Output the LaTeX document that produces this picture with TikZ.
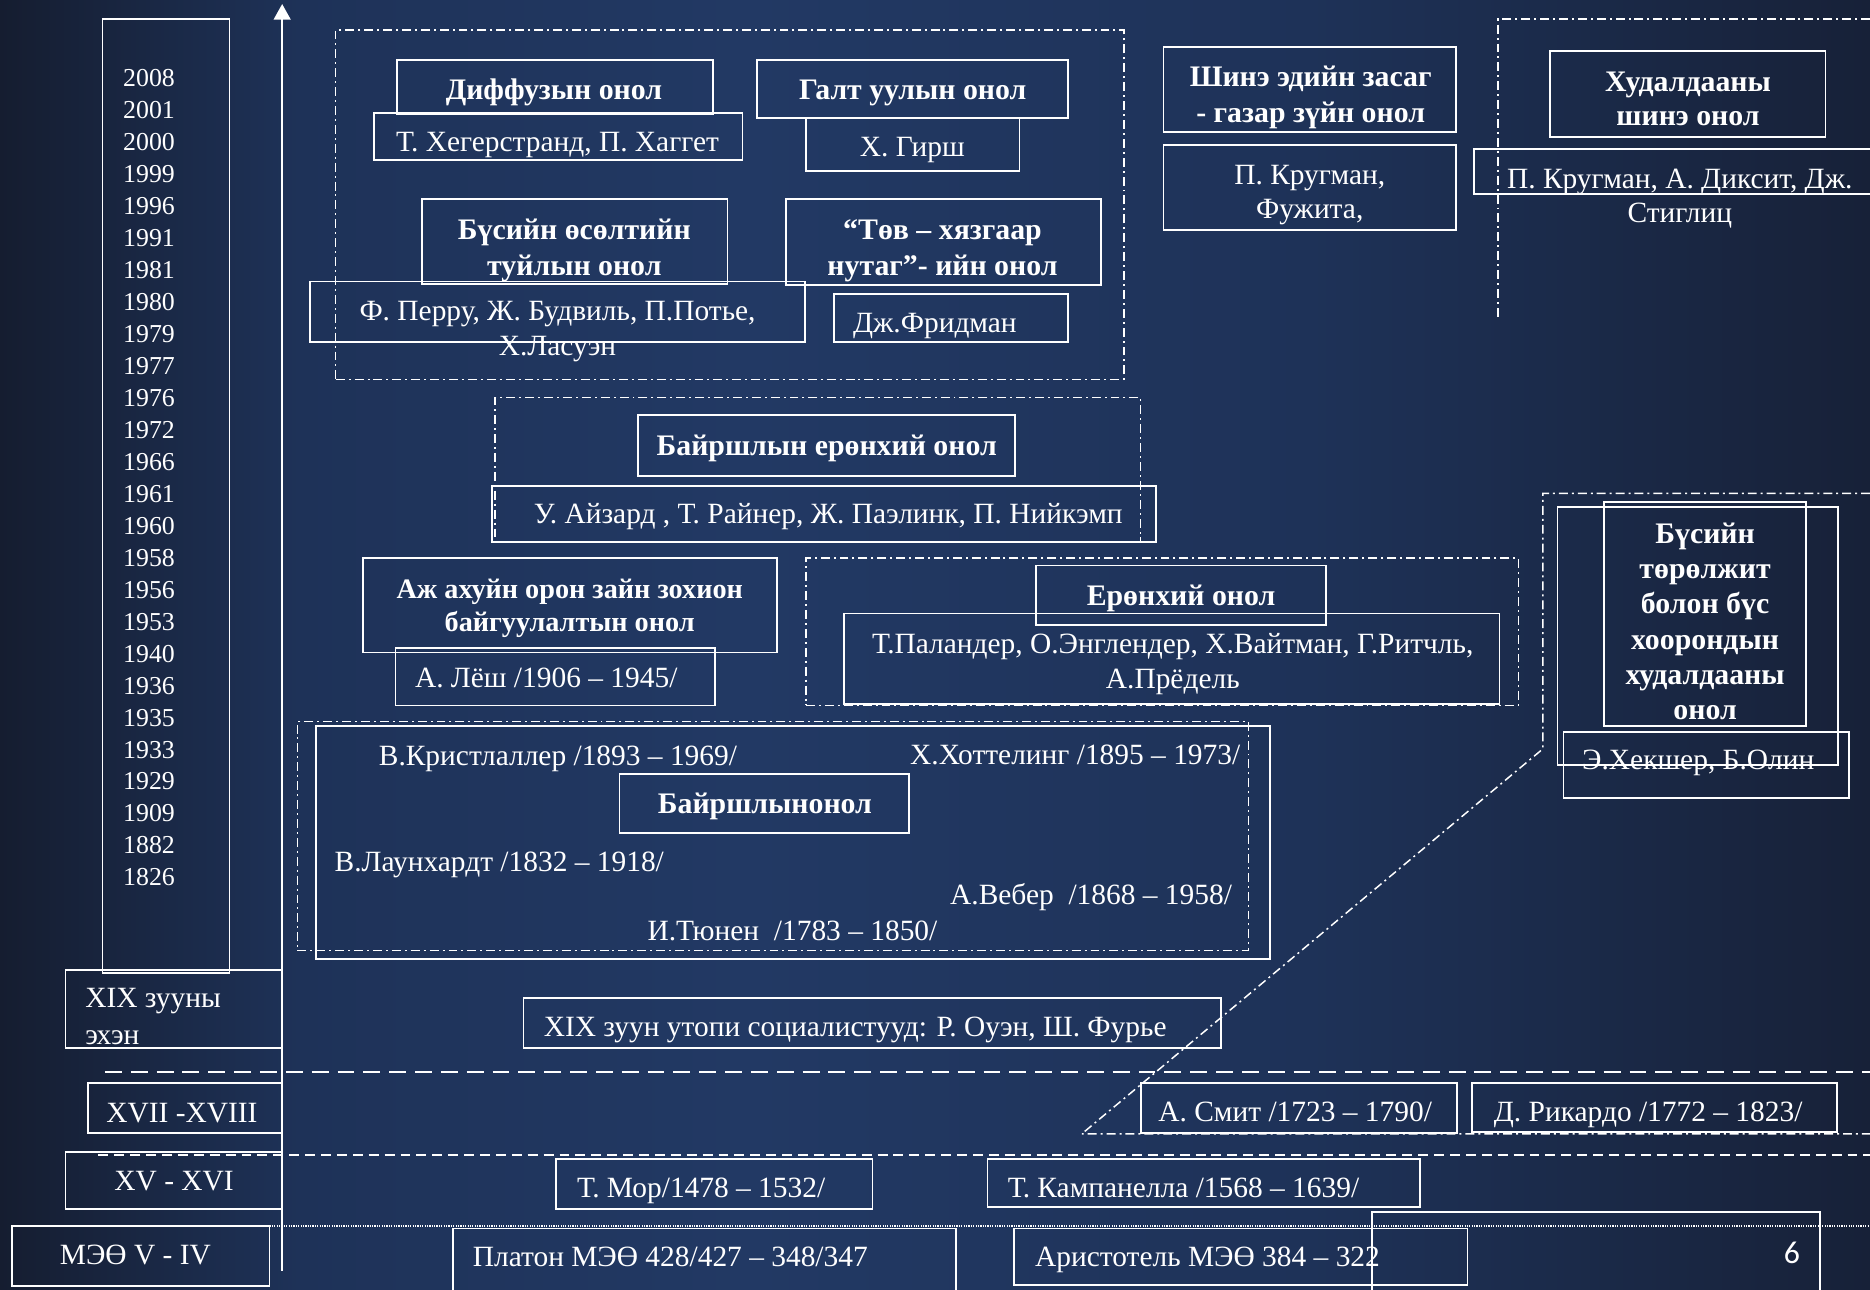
\documentclass[tikz,border=0pt]{standalone}
\usepackage{fontspec}
\setmainfont{Liberation Serif}
\newfontfamily\pagefont{Carlito}
\usetikzlibrary{fit,arrows.meta}
\definecolor{bgA}{RGB}{21,29,48}
\definecolor{bgB}{RGB}{30,50,88}
\definecolor{bgC}{RGB}{34,57,100}
\definecolor{bgD}{RGB}{23,33,56}
\pgfdeclarehorizontalshading{bgsh}{100bp}{color(0bp)=(bgA); color(25bp)=(bgA); color(33bp)=(bgB); color(45bp)=(bgC); color(60bp)=(bgB); color(75bp)=(bgD); color(100bp)=(bgD)}
\tikzset{
 bx/.style={draw=white, line width=0.9pt, inner sep=0pt, outer sep=0pt},
 dd/.style={draw=white, line width=0.75pt, dash pattern=on 4.5pt off 2pt on 1pt off 2pt},
 ddbox/.style={dd, inner sep=0pt, outer sep=0pt},
 tx/.style={text=white, inner sep=0pt, outer sep=0pt, anchor=base, font=\fontsize{14.8}{17.5}\selectfont},
 tb/.style={tx, font=\bfseries\fontsize{15}{17.5}\selectfont},
 ml/.style={anchor=north, align=center},
 longdash/.style={draw=white, line width=1pt, dash pattern=on 8.5pt off 4.5pt},
 shortdash/.style={draw=white, line width=0.85pt, dash pattern=on 5pt off 3pt},
 finedot/.style={draw=white, line width=0.8pt, dash pattern=on 0.6pt off 0.6pt},
}
\newcommand\bxx[5]{\node[bx, fit={(#2,#3) (#4,#5)}] (#1) {};}
\newcommand\grp[5]{\node[ddbox, fit={(#2,#3) (#4,#5)}] (#1) {};}
\begin{document}
\begin{tikzpicture}[x=0.6pt, y=-0.6pt]
\useasboundingbox (0,0) rectangle (1568,1081);
\shade[shading=bgsh] (0,0) rectangle (1568,1081);
\clip (0,0) rectangle (1568,1081);

% ---------- time axis ----------
\coordinate (axb) at (236.6,1065.5);
\coordinate (axt) at (236.6,3.4);
\draw[white, line width=1pt, -{Triangle[width=8.4pt,length=7.8pt]}] (axb) -- (axt);

\bxx{byears}{86}{16}{192.5}{816}
\node[tx, ml, font=\fontsize{13}{16.08}\selectfont] (years) at (125,58.4)
 {2008\\2001\\2000\\1999\\1996\\1991\\1981\\1980\\1979\\1977\\1976\\1972\\1966\\1961\\1960\\1958\\1956\\1953\\1940\\1936\\1935\\1933\\1929\\1909\\1882\\1826};

% ---------- era boxes ----------
\bxx{bxix}{55}{813.4}{236.5}{879}
\node[tx, anchor=north west, align=left, font=\fontsize{14.8}{18.4}\selectfont] (txix) at (71.5,828.8) {XIX зууны\\эхэн};
\bxx{bxvii}{73.5}{908.4}{236.5}{950.3}
\node[tx] (txvii) at (152.6,940.8) {XVII -XVIII};
\bxx{bxv}{55}{965.7}{236.5}{1013.8}
\node[tx] (txv) at (146,998.1) {XV - XVI};
\bxx{bmee}{10}{1028}{226}{1078}
\node[tx] (tmee) at (113.5,1060.4) {МЭӨ V - IV};

% ---------- horizontal separators ----------
\coordinate (s1a) at (88,899); \coordinate (s1b) at (1568,899);
\draw[longdash] (s1a) -- (s1b);
\coordinate (s2a) at (82.5,968.5); \coordinate (s2b) at (1568,968.5);
\draw[shortdash] (s2a) -- (s2b);
\coordinate (s3a) at (226,1028); \coordinate (s3b) at (1568,1028);
\draw[finedot] (s3a) -- (s3b);

% ---------- group 1 ----------
\grp{g1}{281.5}{25.2}{942.4}{318}
\bxx{bdiff}{333}{50.6}{597.6}{96}
\node[tb] (tdiff) at (464.5,83.6) {Диффузын онол};
\bxx{bheg}{313.3}{95}{622.6}{134}
\node[tx] (theg) at (467.5,126.9) {Т. Хегерстранд, П. Хаггет};
\bxx{bgalt}{634.5}{50.3}{895.4}{99.2}
\node[tb] (tgalt) at (765.3,83.6) {Галт уулын онол};
\bxx{bgirsh}{675.8}{99.2}{854.8}{143.4}
\node[tx] (tgirsh) at (765,131.1) {Х. Гирш};
\bxx{bbus}{353.7}{167}{610}{238}
\node[tb, ml, font=\bfseries\fontsize{15}{17.9}\selectfont] (tbus) at (481.6,183.9) {Бүсийн өсөлтийн\\туйлын онол};
\bxx{bperru}{260}{236}{675.2}{286.5}
\node[tx, ml, font=\fontsize{14.8}{17.6}\selectfont] (tperru) at (467.5,252.7) {Ф. Перру, Ж. Будвиль, П.Потье,\\Х.Ласуэн};
\bxx{btov}{658.9}{167.1}{923}{239}
\node[tb, ml, font=\bfseries\fontsize{15}{17.9}\selectfont] (ttov) at (790.3,184.2) {“Төв – хязгаар\\нутаг”- ийн онол};
\bxx{bfrid}{699}{246.8}{895.4}{287}
\node[tx, anchor=base west] (tfrid) at (715.3,279.2) {Дж.Фридман};

% ---------- top right ----------
\bxx{bshine}{975.5}{39.4}{1220.9}{111}
\node[tb, ml, font=\bfseries\fontsize{15}{18}\selectfont] (tshine) at (1099,55.2) {Шинэ эдийн засаг\\- газар зүйн онол};
\bxx{bkrug}{975.5}{121.3}{1220.9}{192.9}
\node[tx, ml, font=\fontsize{14.8}{17.2}\selectfont] (tkrug) at (1098.2,138.7) {П. Кругман,\\Фужита,};
\coordinate (r1a) at (1568,16); \coordinate (r1b) at (1256,16); \coordinate (r1c) at (1256,268.3);
\draw[dd] (r1a) -- (r1b) -- (r1c);
\bxx{bhud}{1299.7}{42.8}{1530.6}{114.6}
\node[tb, ml, font=\bfseries\fontsize{15}{17.2}\selectfont] (thud) at (1415.4,60) {Худалдааны\\шинэ онол};
\bxx{bkrug2}{1235.9}{124.7}{1575}{162.4}
\node[tx, ml, font=\fontsize{14.8}{17.2}\selectfont] (tkrug2) at (1408.5,141.4) {П. Кругман, А. Диксит, Дж.\\Стиглиц};

% ---------- group 2 ----------
\grp{g2}{415}{333.5}{956.5}{455}
\bxx{bbayr}{535.2}{348}{851.1}{398.9}
\node[tb] (tbayr) at (693.2,381.8) {Байршлын ерөнхий онол};
\bxx{baiz}{412.5}{407.3}{969.3}{454.6}
\node[tx, anchor=base west] (taiz) at (447.7,439.3) {У. Айзард , Т. Райнер, Ж. Паэлинк, П. Нийкэмп};

% ---------- Losch ----------
\bxx{bazh}{304.7}{468}{651.3}{547.1}
\node[tb, ml, font=\bfseries\fontsize{14.2}{16.6}\selectfont] (tazh) at (477.7,485.3) {Аж ахуйн орон зайн зохион\\байгуулалтын онол};
\bxx{blosh}{331.6}{543.5}{599.3}{591.5}
\node[tx, anchor=base west] (tlosh) at (348,576.2) {А. Лёш /1906 – 1945/};

% ---------- group 3 ----------
\grp{g3}{675.8}{468}{1273.1}{591.5}
\bxx{beron}{868.5}{474.1}{1111.6}{524.1}
\node[tb] (teron) at (990.3,507.6) {Ерөнхий онол};
\bxx{bpal}{707.7}{514.5}{1257.3}{590.2}
\node[tx, ml, font=\fontsize{14.8}{17.5}\selectfont] (tpal) at (983.4,531.4) {Т.Паландер, О.Энглендер, Х.Вайтман, Г.Ритчль,\\А.Прёдель};

% ---------- group 4 ----------
\grp{g4}{249.4}{605}{1046.7}{797}
\bxx{bg4}{264.7}{608.5}{1065}{804}
\node[tx, anchor=base west] (tkrist) at (317.7,641.8) {В.Кристлаллер /1893 – 1969/};
\node[tx, anchor=base east] (thot) at (1040,641) {Х.Хоттелинг /1895 – 1973/};
\bxx{bbayr2}{519.4}{649}{762.4}{698.4}
\node[tb] (tbayr2) at (641.4,681.9) {Байршлынонол};
\node[tx, anchor=base west] (tlaun) at (280.6,730.4) {В.Лаунхардт /1832 – 1918/};
\node[tx, anchor=base east] (tweb) at (1033,758.6) {А.Вебер~ /1868 – 1958/};
\node[tx, anchor=base west] (ttun) at (543,788.8) {И.Тюнен~ /1783 – 1850/};

% ---------- utopian ----------
\bxx{butop}{439}{836.5}{1023.8}{879}
\node[tx, anchor=base west] (tutop) at (456,869.1) {XIX зуун утопи социалистууд: Р. Оуэн, Ш. Фурье};

% ---------- right trade group ----------
\coordinate (r2a) at (1568,413.6); \coordinate (r2b) at (1293.6,413.6);
\coordinate (r2c) at (1293.6,628); \coordinate (r2d) at (907,950.8); \coordinate (r2e) at (1568,950.8);
\draw[dd] (r2a) -- (r2b) -- (r2c) -- (r2d) -- (r2e);
\bxx{bouterR}{1306}{425.4}{1541}{641.5}
\bxx{bbusR}{1345.2}{420.6}{1514.3}{608.5}
\node[tb, ml, font=\bfseries\fontsize{15}{17.7}\selectfont] (tbusR) at (1429.7,438.6) {Бүсийн\\төрөлжит\\болон бүс\\хоорондын\\худалдааны\\онол};
\bxx{bhek}{1310.9}{613.5}{1550.4}{668.8}
\node[tx] (thek) at (1424,645.4) {Э.Хекшер, Б.Олин};

\bxx{bsmit}{956.5}{908.4}{1221.4}{950.3}
\node[tx] (tsmit) at (1086,940.3) {А. Смит /1723 – 1790/};
\bxx{brik}{1234.3}{907.8}{1540.3}{949.5}
\node[tx] (trik) at (1382,940.3) {Д. Рикардо /1772 – 1823/};

% ---------- XV-XVI ----------
\bxx{bmor}{466.5}{971.8}{731.5}{1014}
\node[tx, anchor=base west] (tmor) at (484,1004.5) {Т. Мор/1478 – 1532/};
\bxx{bkamp}{828}{971.8}{1190.5}{1012}
\node[tx, anchor=base west] (tkamp) at (845,1004.5) {Т. Кампанелла /1568 – 1639/};

% ---------- antiquity ----------
\bxx{bplat}{380}{1030}{801.5}{1084}
\node[tx, anchor=base west] (tplat) at (396.5,1061.8) {Платон МЭӨ 428/427 – 348/347};
\bxx{barist}{850.5}{1030}{1230.5}{1077.5}
\node[tx, anchor=base west] (tarist) at (868,1061.8) {Аристотель МЭӨ 384 – 322};
\bxx{bpage}{1150.4}{1016.5}{1526}{1084}
\node[tx, font=\pagefont\fontsize{16}{18}\selectfont] (tpage) at (1502.5,1059.4) {6};
\end{tikzpicture}
\end{document}
